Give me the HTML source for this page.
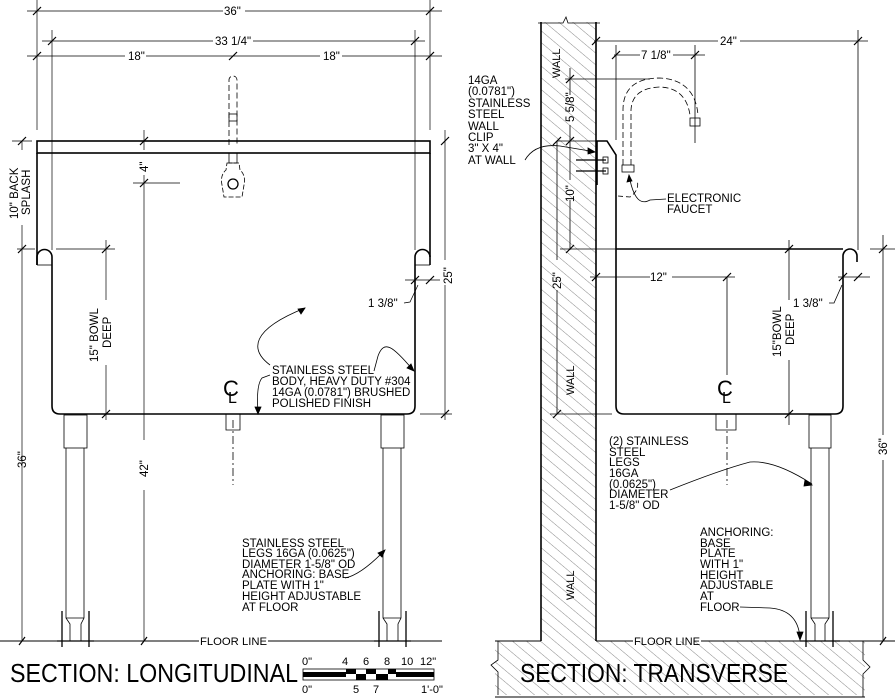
<!DOCTYPE html>
<html><head><meta charset="utf-8"><style>
html,body{margin:0;padding:0;background:#fff;}
svg{display:block;}
text{font-family:"Liberation Sans",sans-serif;fill:#000;}
</style></head><body>
<svg width="895" height="700" viewBox="0 0 895 700" xmlns="http://www.w3.org/2000/svg">
<defs>
<pattern id="h" width="9" height="9" patternUnits="userSpaceOnUse" patternTransform="rotate(-50)">
<line x1="0" y1="0" x2="0" y2="9" stroke="#555" stroke-width="0.7"/>
</pattern>
</defs>
<g stroke="#000" fill="none" stroke-width="0.7">
<line x1="27" y1="11" x2="223" y2="11"/><line x1="245" y1="11" x2="442" y2="11"/>
<line x1="42" y1="41" x2="213" y2="41"/><line x1="253" y1="41" x2="425" y2="41"/>
<line x1="27" y1="56" x2="125" y2="56"/><line x1="146" y1="56" x2="320" y2="56"/><line x1="342" y1="56" x2="442" y2="56"/>
<line x1="37" y1="0" x2="37" y2="130"/><line x1="430" y1="0" x2="430" y2="130"/>
<line x1="52" y1="30" x2="52" y2="250"/><line x1="415" y1="30" x2="415" y2="250"/>
<g stroke-width="1.2">
<line x1="33" y1="15" x2="41" y2="7"/><line x1="426" y1="15" x2="434" y2="7"/>
<line x1="48" y1="45" x2="56" y2="37"/><line x1="411" y1="45" x2="419" y2="37"/>
<line x1="33" y1="60" x2="41" y2="52"/><line x1="229" y1="60" x2="237" y2="52"/><line x1="426" y1="60" x2="434" y2="52"/>
</g>
<line x1="12" y1="141" x2="32" y2="141"/><line x1="22" y1="141" x2="22" y2="150"/><line x1="22" y1="225" x2="22" y2="641"/>
<line x1="17" y1="249" x2="35" y2="249"/>
<line x1="56" y1="249" x2="115" y2="249"/><line x1="106" y1="240" x2="106" y2="300"/><line x1="106" y1="365" x2="106" y2="420"/>
<line x1="144" y1="130" x2="144" y2="150"/><line x1="144" y1="175" x2="144" y2="440"/><line x1="144" y1="490" x2="144" y2="641"/>
<line x1="133" y1="183" x2="180" y2="183"/>
<line x1="445" y1="130" x2="445" y2="260"/><line x1="445" y1="285" x2="445" y2="420"/>
<line x1="420" y1="414" x2="452" y2="414"/>
<line x1="405" y1="280" x2="440" y2="280"/>
<g stroke-width="1.2">
<line x1="18" y1="145" x2="26" y2="137"/><line x1="18" y1="253" x2="26" y2="245"/>
<line x1="140" y1="145" x2="148" y2="137"/><line x1="140" y1="187" x2="148" y2="179"/>
<line x1="102" y1="253" x2="110" y2="245"/><line x1="102" y1="418" x2="110" y2="410"/>
<line x1="441" y1="145" x2="449" y2="137"/><line x1="441" y1="418" x2="449" y2="410"/>
<line x1="411" y1="284" x2="419" y2="276"/><line x1="426" y1="284" x2="434" y2="276"/>
<line x1="19" y1="645" x2="25" y2="637"/><line x1="141" y1="645" x2="147" y2="637"/>
</g>
<path d="M404 303 L410 302 L418 285"/>
</g>
<g stroke="#000" fill="none" stroke-width="1.6">
<rect x="37" y="141" width="393" height="12"/>
<line x1="37" y1="153" x2="37" y2="265"/><line x1="430" y1="153" x2="430" y2="265"/>
<path d="M37 265 L37 257 A7.5 7.5 0 0 1 52 257 L52 406 Q52 414 60 414 L407 414 Q415 414 415 406 L415 257 A7.5 7.5 0 0 1 430 257"/>
</g>
<g stroke="#000" fill="none" stroke-width="0.8">
<line x1="37" y1="265" x2="52" y2="265"/><line x1="415" y1="265" x2="430" y2="265"/>
<rect x="64" y="415" width="23" height="33"/>
<path d="M66 448 L66 618 L70 624 L70 641 M84 448 L84 618 L81 624 L81 641 M66 618 L84 618"/>
<rect x="381" y="415" width="23" height="33"/>
<path d="M383 448 L383 618 L387 624 L387 641 M401 448 L401 618 L398 624 L398 641 M383 618 L401 618"/>
<g stroke-width="1.3">
<line x1="62" y1="611" x2="62" y2="647"/><line x1="89" y1="611" x2="89" y2="647"/>
<line x1="379" y1="611" x2="379" y2="647"/><line x1="406" y1="611" x2="406" y2="647"/>
<line x1="57" y1="641" x2="94" y2="641"/><line x1="374" y1="641" x2="411" y2="641"/>
</g>
<line x1="0" y1="641" x2="199" y2="641" stroke-width="1"/><line x1="268" y1="641" x2="442" y2="641" stroke-width="1"/>
<path d="M229 145 L229 80 A4 4 0 0 1 237 80 L237 145" stroke-dasharray="6,3"/>
<rect x="229" y="114" width="8" height="7"/>
<path d="M229 153 L229 163 L237 163 L237 153"/>
<path d="M227 163 L239 163 L240 170 Q246 175 244 185 L242 197 L224 197 L222 185 Q220 175 226 170 Z" stroke-dasharray="5,2"/>
<circle cx="233" cy="184" r="5" stroke-width="1.3"/>
<path d="M226 414 L226 430 L240 430 L240 414"/>
<line x1="233" y1="420" x2="233" y2="485" stroke-dasharray="8,3,2,3"/>
<path d="M270 365 C250 350 250 330 305 308"/><path d="M305 308 l-7 1 l3 5 z" fill="#000"/>
<path d="M270 375 L262 378 Q256 385 258 412"/><path d="M258 414 l-3 -7 l6 0 z" fill="#000"/>
<path d="M374 371 L378 356 C384 340 392 345 413 370"/><path d="M414 371 l-7 -3 l4 -4 z" fill="#000"/>
<path d="M345 578 Q360 575 382 553"/><path d="M385 550 l-7 3 l4 4 z" fill="#000"/>
</g>
<g font-size="11.5">
<text x="224" y="15">36"</text>
<text x="215" y="45">33 1/4"</text>
<text x="128" y="60">18"</text>
<text x="323" y="60">18"</text>
<text transform="translate(18,219) rotate(-90)">10" BACK</text>
<text transform="translate(30,215) rotate(-90)">SPLASH</text>
<text transform="translate(148,172) rotate(-90)">4"</text>
<text transform="translate(98,362) rotate(-90)">15" BOWL</text>
<text transform="translate(111,348) rotate(-90)">DEEP</text>
<text transform="translate(26,468) rotate(-90)">36"</text>
<text transform="translate(148,477) rotate(-90)">42"</text>
<text transform="translate(452,284) rotate(-90)">25"</text>
<text x="368" y="307">1 3/8"</text>
<text x="272" y="374">STAINLESS STEEL</text>
<text x="272" y="385">BODY, HEAVY DUTY #304</text>
<text x="272" y="396">14GA (0.0781") BRUSHED</text>
<text x="272" y="407">POLISHED FINISH</text>
<text x="242" y="547">STAINLESS STEEL</text>
<text x="242" y="557">LEGS 16GA (0.0625")</text>
<text x="242" y="568">DIAMETER 1-5/8" OD</text>
<text x="242" y="578">ANCHORING: BASE</text>
<text x="242" y="589">PLATE WITH 1"</text>
<text x="242" y="600">HEIGHT ADJUSTABLE</text>
<text x="242" y="611">AT FLOOR</text>
<text x="200" y="645" font-size="11" textLength="67" lengthAdjust="spacingAndGlyphs">FLOOR LINE</text>
<text x="223" y="396" font-size="22" font-family="Liberation Serif">C</text>
<text x="228" y="403" font-size="16" font-family="Liberation Serif">L</text>
</g>
<text x="10" y="682" font-size="26" textLength="288" lengthAdjust="spacingAndGlyphs">SECTION: LONGITUDINAL</text>
<g>
<rect x="303" y="669" width="131" height="11" fill="#fff" stroke="#000" stroke-width="0.8"/>
<rect x="303" y="672" width="43" height="5" fill="#000"/>
<rect x="346" y="669" width="10" height="5" fill="#000"/><rect x="356" y="674" width="10" height="6" fill="#000"/>
<rect x="366" y="669" width="10" height="5" fill="#000"/><rect x="376" y="674" width="12" height="6" fill="#000"/>
<rect x="388" y="669" width="8" height="5" fill="#000"/>
<rect x="396" y="672" width="38" height="5" fill="#000"/>
</g>
<g font-size="11">
<text x="302" y="665">0"</text><text x="342" y="665">4</text><text x="363" y="665">6</text><text x="384" y="665">8</text><text x="401" y="665">10</text><text x="420" y="665">12"</text>
<text x="302" y="693">0"</text><text x="353" y="693">5</text><text x="373" y="693">7</text><text x="421" y="693">1'-0"</text>
</g>

<path d="M541 22 L596 22 L596 641 L865 641 L865 695 L495 695 L495 641 L541 641 Z" fill="url(#h)" stroke="none"/>
<g stroke="#000" fill="none" stroke-width="1.6">
<line x1="541" y1="22" x2="541" y2="641"/><line x1="596" y1="22" x2="596" y2="641"/>
<line x1="495" y1="641" x2="541" y2="641" stroke-width="1"/><line x1="596" y1="641" x2="633" y2="641" stroke-width="1"/>
<line x1="701" y1="641" x2="895" y2="641" stroke-width="1"/>
<line x1="495" y1="697" x2="865" y2="697" stroke-width="1"/>
</g>
<g stroke="#000" fill="none" stroke-width="0.8">
<path d="M538 23 L563 23 L566 17 L568 23 L600 23"/>
<path d="M498 641 L498 660 L491 665 L498 672 L498 695"/>
<path d="M863 641 L863 660 L870 667 L863 674 L863 697"/>
<line x1="594" y1="41" x2="718" y2="41"/><line x1="740" y1="41" x2="868" y2="41"/>
<line x1="858" y1="30" x2="858" y2="250"/>
<line x1="614" y1="55" x2="640" y2="55"/><line x1="673" y1="55" x2="705" y2="55"/>
<line x1="616" y1="45" x2="616" y2="140"/><line x1="695" y1="45" x2="695" y2="143"/>
<line x1="565" y1="79" x2="650" y2="79"/>
<line x1="570" y1="68" x2="570" y2="95"/><line x1="570" y1="125" x2="570" y2="180"/><line x1="570" y1="200" x2="570" y2="250"/>
<line x1="557" y1="141" x2="596" y2="141"/>
<line x1="560" y1="249" x2="616" y2="249"/>
<line x1="557" y1="141" x2="557" y2="260"/><line x1="557" y1="290" x2="557" y2="414"/>
<line x1="590" y1="277" x2="650" y2="277"/><line x1="672" y1="277" x2="735" y2="277"/>
<line x1="727" y1="277" x2="727" y2="375"/>
<line x1="550" y1="414" x2="612" y2="414"/>
<line x1="789" y1="240" x2="789" y2="300"/><line x1="789" y1="360" x2="789" y2="425"/>
<line x1="838" y1="277" x2="870" y2="277"/>
<line x1="883" y1="235" x2="883" y2="435"/><line x1="883" y1="460" x2="883" y2="641"/>
<line x1="870" y1="249" x2="895" y2="249"/>
<path d="M829 303 L834 303 L842 285"/>
<g stroke-width="1.2">
<line x1="592" y1="45" x2="600" y2="37"/><line x1="854" y1="45" x2="862" y2="37"/>
<line x1="612" y1="59" x2="620" y2="51"/><line x1="691" y1="59" x2="699" y2="51"/>
<line x1="566" y1="83" x2="574" y2="75"/><line x1="566" y1="145" x2="574" y2="137"/><line x1="553" y1="145" x2="561" y2="137"/>
<line x1="566" y1="253" x2="574" y2="245"/>
<line x1="592" y1="281" x2="600" y2="273"/><line x1="723" y1="281" x2="731" y2="273"/>
<line x1="553" y1="418" x2="561" y2="410"/>
<line x1="785" y1="253" x2="793" y2="245"/><line x1="785" y1="418" x2="793" y2="410"/>
<line x1="839" y1="281" x2="847" y2="273"/><line x1="854" y1="281" x2="862" y2="273"/>
<line x1="879" y1="253" x2="887" y2="245"/>
<line x1="880" y1="645" x2="886" y2="637"/>
</g>
<path d="M623 165 L623 110 Q623 78 660 78 Q695 80 698 115" stroke-dasharray="6,3"/>
<path d="M631 165 L631 110 Q632 88 660 87 Q686 88 690 115" stroke-dasharray="6,3"/>
<rect x="690" y="118" width="10" height="8"/>
<rect x="622" y="165" width="12" height="7"/>
<path d="M618 196 L630 197 Q640 190 637 180" stroke-dasharray="5,3"/>
<g stroke-width="1.3"><line x1="576" y1="160" x2="606" y2="160"/><line x1="576" y1="171" x2="606" y2="171"/></g>
<rect x="603" y="157" width="5" height="6"/><rect x="603" y="168" width="5" height="6"/>
<path d="M525 160 Q535 143 560 146 L590 151"/><path d="M595 152 l-7 -4 l0 6 z" fill="#000"/>
<path d="M666 199 L650 200 Q636 208 630 180"/><path d="M629 175 l-2 7 l5 -1 z" fill="#000"/>
<path d="M670 490 Q720 470 750 462 Q775 460 812 484"/><path d="M812 485 l-7 -5 l-1 6 z" fill="#000"/>
<path d="M740 607 L770 608 Q798 610 800 638"/><path d="M800 640 l-3 -8 l6 0 z" fill="#000"/>
<path d="M716 414 L716 430 L736 430 L736 414"/>
<line x1="727" y1="420" x2="727" y2="485" stroke-dasharray="8,3,2,3"/>
<rect x="809" y="415" width="22" height="33"/>
<path d="M811 448 L811 618 L815 624 L815 641 M829 448 L829 618 L825 624 L825 641 M811 618 L829 618"/>
<g stroke-width="1.3"><line x1="806" y1="611" x2="806" y2="647"/><line x1="833" y1="611" x2="833" y2="647"/><line x1="800" y1="641" x2="840" y2="641"/></g>
</g>
<g stroke="#000" fill="none" stroke-width="1.6">
<path d="M597 185 L597 141 L607 141 L616 155 L616 406 Q616 414 624 414 L835 414 Q843 414 843 406 L843 256 A7 7 0 0 1 857 256 L857 262"/>
<line x1="616" y1="249" x2="843" y2="249"/>
</g>
<g font-size="11.5">
<text x="720" y="45">24"</text>
<text x="641" y="59">7 1/8"</text>
<text x="650" y="281">12"</text>
<text x="468" y="84">14GA</text>
<text x="468" y="95">(0.0781")</text>
<text x="468" y="107">STAINLESS</text>
<text x="468" y="118">STEEL</text>
<text x="468" y="130">WALL</text>
<text x="468" y="141">CLIP</text>
<text x="468" y="152">3" X 4"</text>
<text x="468" y="164">AT WALL</text>
<text x="667" y="202">ELECTRONIC</text>
<text x="667" y="213">FAUCET</text>
<text transform="translate(574,122) rotate(-90)">5 5/8"</text>
<text transform="translate(574,202) rotate(-90)">10"</text>
<text transform="translate(561,289) rotate(-90)">25"</text>
<text transform="translate(560,78) rotate(-90)" font-size="11">WALL</text>
<text transform="translate(574,395) rotate(-90)" font-size="11">WALL</text>
<text transform="translate(574,600) rotate(-90)" font-size="11">WALL</text>
<text transform="translate(781,357) rotate(-90)">15"BOWL</text>
<text transform="translate(794,345) rotate(-90)">DEEP</text>
<text transform="translate(887,455) rotate(-90)">36"</text>
<text x="793" y="307">1 3/8"</text>
<text x="609" y="445">(2) STAINLESS</text>
<text x="609" y="456">STEEL</text>
<text x="609" y="466">LEGS</text>
<text x="609" y="477">16GA</text>
<text x="609" y="488">(0.0625")</text>
<text x="609" y="498">DIAMETER</text>
<text x="609" y="509">1-5/8" OD</text>
<text x="700" y="536">ANCHORING:</text>
<text x="700" y="547">BASE</text>
<text x="700" y="557">PLATE</text>
<text x="700" y="568">WITH 1"</text>
<text x="700" y="579">HEIGHT</text>
<text x="700" y="589">ADJUSTABLE</text>
<text x="700" y="600">AT</text>
<text x="700" y="611">FLOOR</text>
<text x="634" y="645" font-size="11" textLength="66" lengthAdjust="spacingAndGlyphs">FLOOR LINE</text>
<text x="717" y="396" font-size="22" font-family="Liberation Serif">C</text>
<text x="722" y="403" font-size="16" font-family="Liberation Serif">L</text>
</g>
<text x="520" y="682" font-size="26" textLength="268" lengthAdjust="spacingAndGlyphs">SECTION: TRANSVERSE</text>
</svg>
</body></html>
